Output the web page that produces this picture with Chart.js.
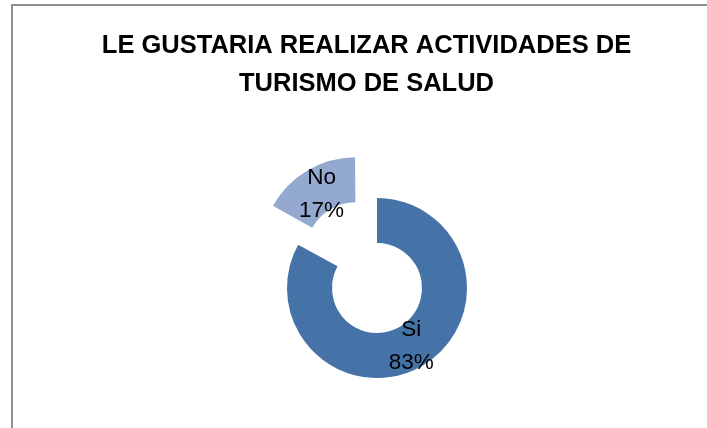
<!DOCTYPE html>
<html>
<head>
<meta charset="utf-8">
<script src="https://cdn.jsdelivr.net/npm/chart.js@4.4.1/dist/chart.umd.min.js"></script>
<style>
  html, body { margin: 0; padding: 0; width: 707px; height: 428px; overflow: hidden; background: #fff; }
  #frame { position: absolute; left: 11px; top: 4px; width: 720px; height: 450px; border: 2px solid #8f8f8f; box-sizing: border-box; }
  #wrap { position: absolute; left: 0; top: 0; width: 707px; height: 428px; }
</style>
</head>
<body>
<div id="frame"></div>
<div id="wrap"><canvas id="c" width="707" height="428"></canvas></div>
<script>
const titleLines = ['LE GUSTARIA REALIZAR ACTIVIDADES DE', 'TURISMO DE SALUD'];
const categories = ['Si', 'No'];
const values = [83, 17];
const percentLabels = ['83%', '17%'];
const sliceColors = ['#4572A7', '#94A9D0'];
const sliceOffsets = [0, 166];

const labelPlugin = {
  id: 'sliceLabels',
  afterDatasetsDraw(chart) {
    const ctx = chart.ctx;
    const meta = chart.getDatasetMeta(0);
    ctx.save();
    ctx.font = '22.5px "Liberation Sans", Arial, sans-serif';
    ctx.fillStyle = '#000';
    ctx.textAlign = 'center';
    ctx.textBaseline = 'middle';
    meta.data.forEach((arc, i) => {
      const p = arc.getProps(['x', 'y', 'startAngle', 'endAngle', 'innerRadius', 'outerRadius'], true);
      const mid = (p.startAngle + p.endAngle) / 2;
      const off = (arc.options.offset || 0) / 4;
      const r = (p.innerRadius + p.outerRadius) / 2 + off;
      const cx = p.x + Math.cos(mid) * r;
      const cy = p.y + Math.sin(mid) * r;
      ctx.fillText(categories[i], cx, cy - 16);
      ctx.fillText(percentLabels[i], cx, cy + 17);
    });
    ctx.restore();
  }
};

new Chart(document.getElementById('c'), {
  type: 'doughnut',
  data: {
    labels: categories,
    datasets: [{
      data: values,
      backgroundColor: sliceColors,
      borderWidth: 0,
      offset: sliceOffsets
    }]
  },
  options: {
    responsive: false,
    animation: false,
    events: [],
    radius: 90,
    cutout: '50%',
    layout: { padding: { left: 26, right: 0, top: 5, bottom: 0 } },
    plugins: {
      title: {
        display: true,
        text: titleLines,
        color: '#000',
        font: { family: '"Liberation Sans", Arial, sans-serif', size: 25.5, weight: 'bold', lineHeight: 1.5 },
        padding: { top: 22, bottom: 44.5 }
      },
      legend: {
        display: true,
        position: 'left',
        fullSize: false,
        labels: { padding: 11, filter: () => false }
      },
      tooltip: { enabled: false }
    }
  },
  plugins: [labelPlugin]
});
</script>
</body>
</html>
